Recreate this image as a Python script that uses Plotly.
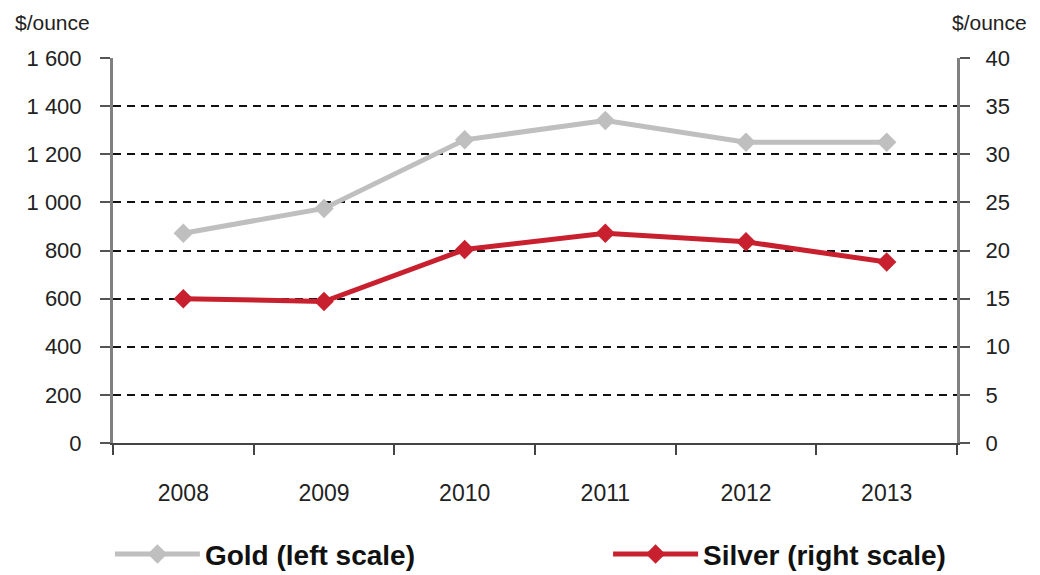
import plotly.graph_objects as go

years = ["2008", "2009", "2010", "2011", "2012", "2013"]
gold = [872, 975, 1260, 1340, 1250, 1250]
silver = [15.0, 14.7, 20.1, 21.8, 20.9, 18.8]
left_ticks = [0, 200, 400, 600, 800, 1000, 1200, 1400, 1600]
left_text = ["0", "200", "400", "600", "800", "1 000", "1 200", "1 400", "1 600"]
right_ticks = [0, 5, 10, 15, 20, 25, 30, 35, 40]

GOLD_C = "#BFBFBF"
SILVER_C = "#C8202E"
FONT = "Liberation Sans, Arial, sans-serif"
Y_TICK_FONT = dict(family=FONT, size=22, color="#222")
X_TICK_FONT = dict(family=FONT, size=23, color="#222")

fig = go.Figure()
fig.add_trace(go.Scatter(
    x=years, y=gold, name="Gold (left scale)", mode="lines+markers",
    line=dict(color=GOLD_C, width=5), marker=dict(symbol="diamond", size=15, color=GOLD_C),
    legend="legend"))
fig.add_trace(go.Scatter(
    x=years, y=silver, name="Silver (right scale)", mode="lines+markers",
    line=dict(color=SILVER_C, width=5), marker=dict(symbol="diamond", size=15, color=SILVER_C),
    yaxis="y2", legend="legend2"))

legend_font = dict(size=28, family=FONT, weight="bold", color="#111")

fig.update_layout(
    width=1040, height=575,
    margin=dict(l=105, r=91, t=50, b=140, autoexpand=False),
    paper_bgcolor="white", plot_bgcolor="white",
    font=dict(family=FONT, size=20, color="#222"),
    xaxis=dict(type="category", range=[-0.5, 5.5], tickson="boundaries",
               ticks="outside", ticklen=10, tickwidth=1.5, tickcolor="#444",
               showline=True, linecolor="#444", linewidth=2, showgrid=False,
               tickangle=0, automargin=False,
               ticklabelstandoff=28, tickfont=X_TICK_FONT),
    yaxis=dict(range=[0, 1600], tickvals=left_ticks, ticktext=left_text,
               ticks="outside", ticklen=10, tickwidth=1.5, tickcolor="#555",
               showline=True, linecolor="#808080", linewidth=3, automargin=False,
               showgrid=True, gridcolor="#111", gridwidth=1.5, griddash="8px,6px",
               zeroline=False, tickfont=Y_TICK_FONT, ticklabelstandoff=14),
    yaxis2=dict(range=[0, 40], tickvals=right_ticks, overlaying="y", side="right",
                ticks="outside", ticklen=10, tickwidth=1.5, tickcolor="#555",
                showline=True, linecolor="#808080", linewidth=3, automargin=False,
                showgrid=False, zeroline=False, tickfont=Y_TICK_FONT, ticklabelstandoff=11),
    legend=dict(x=0.098, xanchor="left", y=0.05, yanchor="middle", orientation="h",
                xref="container", yref="container", font=legend_font, itemwidth=85,
                bgcolor="rgba(0,0,0,0)"),
    legend2=dict(x=0.577, xanchor="left", y=0.05, yanchor="middle", orientation="h",
                 xref="container", yref="container", font=legend_font, itemwidth=85,
                 bgcolor="rgba(0,0,0,0)"),
    showlegend=True,
    annotations=[
        dict(text="$/ounce", xref="paper", yref="paper", x=-0.118, y=1.093,
             xanchor="left", yanchor="middle", showarrow=False,
             font=dict(family=FONT, size=21, color="#222")),
        dict(text="$/ounce", xref="paper", yref="paper", x=0.992, y=1.093,
             xanchor="left", yanchor="middle", showarrow=False,
             font=dict(family=FONT, size=21, color="#222")),
    ],
)
fig.write_html("out.html")
